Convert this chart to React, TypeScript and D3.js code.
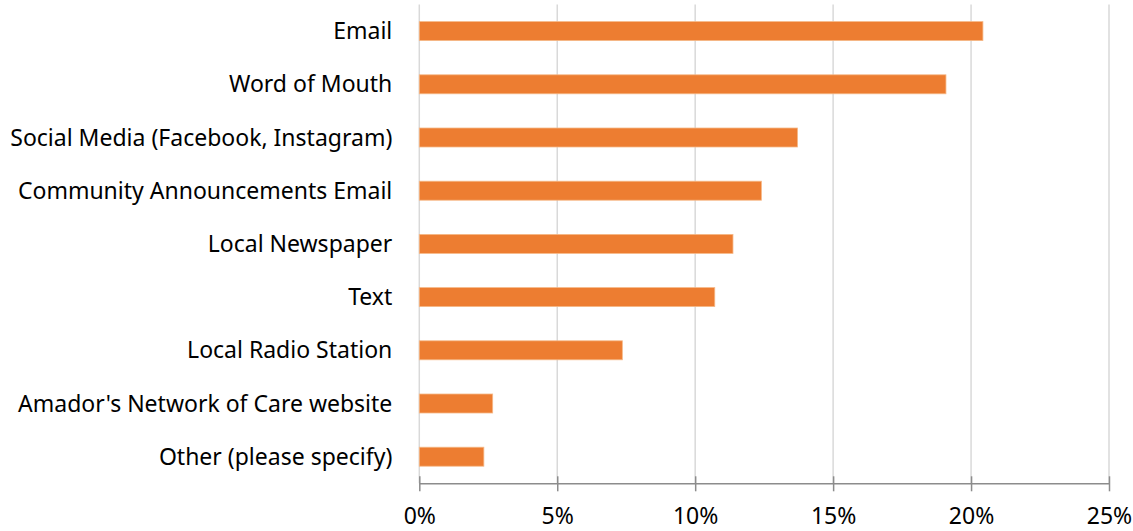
import React, { useEffect, useRef } from 'react';
import * as d3 from 'd3';

const categories: string[] = [
  'Email',
  'Word of Mouth',
  'Social Media (Facebook, Instagram)',
  'Community Announcements Email',
  'Local Newspaper',
  'Text',
  'Local Radio Station',
  "Amador's Network of Care website",
  'Other (please specify)',
];

const shares: number[] = [20.43, 19.09, 13.71, 12.4, 11.37, 10.71, 7.36, 2.66, 2.34];

const xTicks: number[] = [0, 5, 10, 15, 20, 25];

const App = () => {
  const chartRef = useRef<SVGSVGElement | null>(null);

  useEffect(() => {
    if (!chartRef.current) return;
    const svg = d3.select(chartRef.current);
    svg.selectAll('*').remove();

    const margin = { top: 4.5, right: 24, bottom: 47.7, left: 419.3 };
    const width = 1133 - margin.left - margin.right;
    const height = 531 - margin.top - margin.bottom;

    const x = d3.scaleLinear().domain([0, 25]).range([0, width]);
    const y = d3
      .scaleBand<string>()
      .domain(categories)
      .range([0, height])
      .paddingInner(0.643)
      .paddingOuter(0.3215);

    const chart = svg
      .append('g')
      .attr('transform', `translate(${margin.left},${margin.top})`);

    // gridlines
    chart
      .selectAll('.grid')
      .data(xTicks)
      .enter()
      .append('line')
      .attr('x1', (d) => x(d))
      .attr('x2', (d) => x(d))
      .attr('y1', 0)
      .attr('y2', height)
      .attr('stroke', '#d9d9d9')
      .attr('stroke-width', 1.5);

    // bars
    chart
      .selectAll('.bar')
      .data(shares)
      .enter()
      .append('rect')
      .attr('x', x(0))
      .attr('y', (d, i) => y(categories[i])!)
      .attr('width', (d) => x(d) - x(0))
      .attr('height', y.bandwidth())
      .attr('fill', '#ed7d31')
      .attr('stroke', '#f6b887')
      .attr('stroke-width', 0.8);

    // x axis
    const xAxis = chart
      .append('g')
      .attr('transform', `translate(0,${height})`)
      .call(
        d3
          .axisBottom(x)
          .tickValues(xTicks)
          .tickFormat((d) => `${d}%`)
          .tickSizeInner(8)
          .tickSizeOuter(0)
          .tickPadding(16)
      );
    xAxis.select('.domain').attr('stroke', '#8c8c8c').attr('stroke-width', 1.5);
    xAxis
      .selectAll('.tick line')
      .attr('stroke', '#8c8c8c')
      .attr('stroke-width', 1.5)
      .attr('y1', -7);
    xAxis
      .selectAll('.tick text')
      .attr('fill', '#000')
      .style('font-family', '"Noto Sans", sans-serif')
      .style('font-size', '23px');

    // category labels
    chart
      .selectAll('.label')
      .data(categories)
      .enter()
      .append('text')
      .attr('x', -27)
      .attr('y', (d) => y(d)! + y.bandwidth() / 2)
      .attr('dy', '0.35em')
      .attr('text-anchor', 'end')
      .attr('fill', '#000')
      .style('font-family', '"Noto Sans", sans-serif')
      .style('font-size', '23px')
      .text((d) => d);
  }, []);

  return (
    <svg
      ref={chartRef}
      width={1133}
      height={531}
      style={{ position: 'absolute', left: 0, top: 0, background: '#fff' }}
    />
  );
};

export default App;
